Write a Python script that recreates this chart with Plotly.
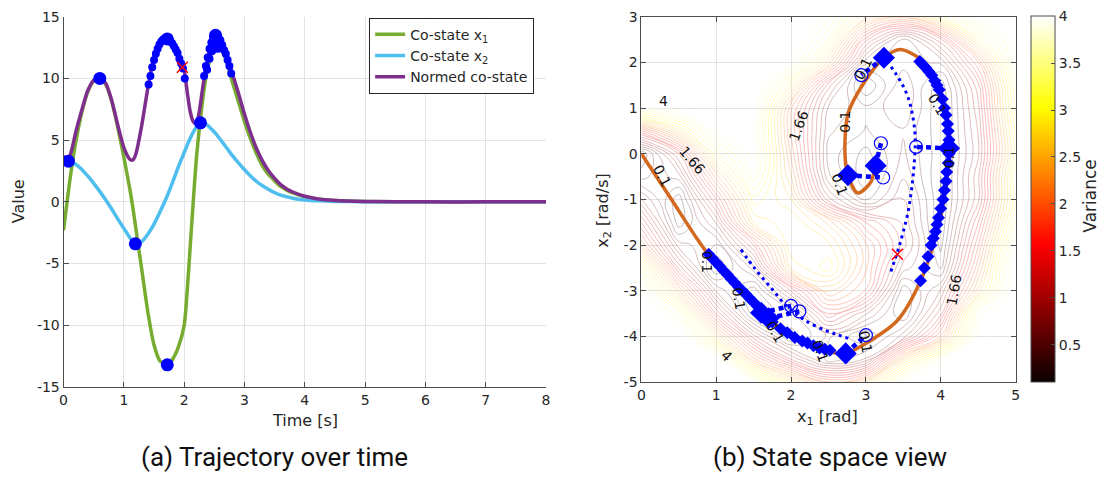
import plotly.graph_objects as go

# ---------------- (a) co-state trajectories over time ----------------
t = [0, 0.05, 0.1, 0.15, 0.2, 0.3, 0.4, 0.5, 0.6, 0.7, 0.8, 0.9, 1.0, 1.1, 1.15, 1.2,
     1.3, 1.4, 1.5, 1.6, 1.72, 1.8, 1.9, 2.0, 2.05, 2.1, 2.15, 2.2, 2.25, 2.3, 2.35,
     2.4, 2.45, 2.52, 2.6, 2.7, 2.8, 2.9, 3.0, 3.1, 3.2, 3.3, 3.4, 3.5, 3.6, 3.7, 3.8,
     4.0, 4.2, 4.5, 5.0, 5.5, 6.0, 7.0, 8.0]
costate_x1 = [-2.3, -0.3, 1.6, 3.3, 4.8, 7.2, 8.9, 9.8, 10.0, 9.5, 8.1, 6.0, 3.6, 1.0, -0.5, -2.2,
              -5.6, -9.0, -11.6, -12.9, -13.2, -12.8, -11.8, -10.0, -7.2, -3.6, 0.0, 3.4, 5.9, 8.0, 9.8,
              11.0, 12.0, 12.6, 12.5, 11.4, 9.7, 8.1, 6.5, 5.1, 3.9, 2.9, 2.2, 1.7, 1.25, 0.95, 0.72,
              0.42, 0.24, 0.11, 0.03, 0.01, 0, 0, 0]
costate_x2 = [3.3, 3.32, 3.3, 3.2, 3.05, 2.65, 2.1, 1.5, 0.85, 0.15, -0.6, -1.4, -2.15, -2.9, -3.2, -3.4,
              -3.2, -2.6, -1.8, -0.8, 0.5, 1.5, 2.8, 4.0, 4.6, 5.15, 5.65, 6.05, 6.35, 6.4, 6.3,
              6.15, 5.9, 5.55, 5.05, 4.4, 3.75, 3.15, 2.6, 2.1, 1.65, 1.3, 1.0, 0.75, 0.55, 0.42, 0.3,
              0.16, 0.09, 0.04, 0.01, 0, 0, 0, 0]
normed = [3.75, 3.3, 3.65, 4.5, 5.6, 7.4, 9.0, 9.85, 10.05, 9.6, 8.2, 6.2, 4.4, 3.45, 3.4, 3.9,
          6.3, 9.3, 11.7, 12.9, 13.25, 12.9, 12.1, 10.7, 8.9, 7.3, 6.5, 6.3, 7.3, 9.0, 10.6,
          11.9, 12.9, 13.5, 13.1, 11.9, 10.4, 8.8, 7.1, 5.6, 4.3, 3.3, 2.5, 1.9, 1.4, 1.05, 0.8,
          0.46, 0.26, 0.12, 0.04, 0.01, 0, 0, 0]

# highlighted samples on the normed co-state near both peaks
peak1_t = [1.41, 1.44, 1.47, 1.50, 1.53, 1.56, 1.59, 1.62, 1.65, 1.68, 1.71, 1.74, 1.77, 1.80,
           1.83, 1.86, 1.89, 1.92, 1.95, 1.98, 2.01]
peak1_v = [9.5, 10.2, 10.9, 11.5, 12.0, 12.4, 12.75, 13.0, 13.15, 13.22, 13.25, 13.2, 13.05, 12.85,
           12.6, 12.35, 12.05, 11.6, 11.2, 10.8, 10.0]
peak2_t = [2.33, 2.36, 2.39, 2.42, 2.45, 2.48, 2.51, 2.54, 2.57, 2.60, 2.63, 2.66, 2.69, 2.72,
           2.75, 2.78, 2.38, 2.42, 2.46, 2.50]
peak2_v = [10.2, 11.0, 11.7, 12.4, 12.9, 13.3, 13.5, 13.45, 13.3, 13.1, 12.7, 12.3, 12.0, 11.5,
           11.0, 10.4, 10.7, 11.6, 12.2, 12.5]
# extrema markers
ext_t = [0.08, 0.6, 1.19, 1.72, 1.72, 2.27, 2.52, 2.55]
ext_v = [3.3, 10.0, -3.4, -13.2, 13.2, 6.4, 13.5, 12.6]
cross_t = [1.97]
cross_v = [10.9]

# ---------------- (b) state space ----------------
grid_x1 = [0, 0.5, 1.0, 1.5, 2.0, 2.5, 3.0, 3.5, 4.0, 4.5, 5.0]
grid_x2 = [-5.0, -4.5, -4.0, -3.5, -3.0, -2.5, -2.0, -1.5, -1.0, -0.5, 0.0,
           0.5, 1.0, 1.5, 2.0, 2.5, 3.0]
variance = [
    [4.3, 4.3, 4.3, 3.8, 2.8, 2.0, 2.4, 3.9, 4.3, 4.3, 4.3],
    [4.3, 4.3, 4.0, 2.2, 1.2, 0.45, 0.75, 2.5, 3.7, 4.3, 4.3],
    [4.3, 4.1, 2.6, 1.1, 0.2, 0.6, 0.25, 0.8, 2.0, 3.9, 4.3],
    [4.2, 3.4, 1.5, 0.15, 0.35, 1.5, 0.9, 0.25, 1.3, 3.6, 4.3],
    [3.9, 2.3, 0.7, 0.15, 1.2, 2.3, 1.8, 0.3, 0.9, 2.5, 4.1],
    [3.3, 1.3, 0.1, 0.8, 2.6, 3.0, 2.0, 0.8, 0.4, 2.1, 4.0],
    [2.1, 0.65, 0.4, 1.5, 2.9, 2.8, 2.0, 1.1, 0.2, 1.8, 3.8],
    [1.5, 0.15, 0.9, 2.6, 2.9, 2.4, 1.5, 1.0, 0.1, 1.5, 3.4],
    [0.9, 0.15, 1.5, 3.0, 2.6, 1.1, 0.35, 0.9, 0.1, 1.15, 3.2],
    [0.35, 0.65, 2.2, 3.5, 2.3, 0.6, 0.15, 0.7, 0.1, 1.15, 3.2],
    [0.1, 1.2, 3.0, 3.8, 2.1, 0.5, 0.2, 0.6, 0.15, 1.0, 3.0],
    [1.6, 2.7, 3.75, 3.8, 1.95, 0.6, 0.4, 0.55, 0.15, 1.05, 3.1],
    [3.9, 3.95, 3.95, 3.95, 2.0, 0.7, 0.45, 0.7, 0.1, 1.15, 3.3],
    [4.2, 4.2, 4.1, 4.1, 2.8, 1.1, 0.1, 0.7, 0.15, 1.3, 3.4],
    [4.3, 4.3, 4.3, 4.3, 3.8, 2.4, 0.6, 0.5, 0.6, 1.8, 3.8],
    [4.3, 4.3, 4.3, 4.3, 4.05, 3.2, 1.4, 0.45, 1.3, 2.9, 3.9],
    [4.3, 4.3, 4.3, 4.3, 4.1, 3.6, 2.6, 2.2, 3.0, 3.8, 4.3],
]

traj_x1 = [0, 0.37, 0.74, 0.88, 1.3, 1.7, 2.1, 2.43, 2.73, 2.98, 3.42, 3.73, 3.99, 4.11,
           4.06, 3.91, 3.73, 3.46, 3.24, 2.98, 2.76, 2.72, 2.76, 2.89, 3.07, 3.13]
traj_x2 = [0, -0.92, -1.85, -2.17, -2.95, -3.62, -4.07, -4.3, -4.37, -4.17, -3.65, -2.78, -1.46, 0.02,
           0.94, 1.72, 2.07, 2.28, 2.1, 1.57, 0.87, 0.02, -0.47, -0.86, -0.61, -0.1]

# sampled states along the swing (small diamonds)
samp_x1 = [0.9, 0.95, 1.0, 1.05, 1.1, 1.15, 1.2, 1.25, 1.3, 1.35, 1.4, 1.45, 1.5, 1.55, 1.6, 1.65,
           1.7, 1.75, 1.86, 1.95, 2.05, 2.15, 2.22, 2.3, 2.38, 2.45, 2.52,
           3.73, 3.78, 3.83, 3.87, 3.9, 3.93, 3.95, 3.97, 4.0, 4.03, 4.05, 4.07, 4.08, 4.1,
           4.11, 4.11, 4.1, 4.09, 4.07, 4.05, 4.02, 3.98, 3.95, 3.92, 3.88, 3.84, 3.8, 3.76, 3.72]
samp_x2 = [-2.2, -2.29, -2.38, -2.47, -2.56, -2.65, -2.74, -2.83, -2.92, -3.0, -3.08, -3.17, -3.25,
           -3.34, -3.43, -3.5, -3.6, -3.68, -3.83, -3.92, -4.02, -4.1, -4.14, -4.2, -4.25, -4.28, -4.3,
           -2.78, -2.5, -2.25, -2.0, -1.85, -1.7, -1.55, -1.4, -1.2, -1.0, -0.8, -0.6, -0.4, -0.2,
           0.0, 0.3, 0.5, 0.65, 0.85, 1.0, 1.2, 1.4, 1.5, 1.6, 1.72, 1.8, 1.88, 1.95, 2.02]
# decision states (large diamonds) and their predicted successors (open circles)
dec_x1 = [1.6, 1.7, 2.73, 4.11, 2.76, 3.13, 3.24]
dec_x2 = [-3.48, -3.6, -4.37, 0.12, -0.47, -0.26, 2.1]
pred_x1 = [2.0, 2.11, 3.0, 3.67, 3.23, 3.2, 2.94]
pred_x2 = [-3.33, -3.45, -3.97, 0.15, -0.52, 0.23, 1.72]

# predicted rollouts (dotted)
rollA_x1 = [1.33, 1.52, 1.74, 1.92, 2.05, 2.19, 2.45, 2.62, 2.78]
rollA_x2 = [-2.1, -2.52, -2.95, -3.3, -3.48, -3.65, -3.86, -3.96, -4.05]
rollB_x1 = [3.28, 3.4, 3.51, 3.58, 3.62, 3.65, 3.66, 3.65, 3.63, 3.6, 3.56, 3.5, 3.44, 3.38, 3.33]
rollB_x2 = [2.03, 1.75, 1.44, 1.15, 0.87, 0.55, 0.23, -0.1, -0.5, -0.9, -1.3, -1.7, -2.05, -2.35, -2.59]
goal_x1 = [3.42]
goal_x2 = [-2.2]

# contour labels: (text, x1, x2, angle)
clabels = [("4", 0.3, 1.15, 0), ("1.66", 0.68, -0.13, 50), ("0.1", 0.27, -0.47, 62),
           ("1.66", 2.1, 0.61, -70), ("0.1", 2.96, 1.86, -65), ("0.1", 2.72, 0.7, -90),
           ("0.1", 3.95, 1.08, 60), ("0.1", 4.11, -0.08, -90), ("0.1", 2.65, -0.66, 70),
           ("0.1", 0.88, -2.37, 90), ("0.1", 1.3, -3.16, 80), ("0.1", 1.79, -3.9, 60),
           ("0.1", 2.39, -4.32, 70), ("0.1", 3.0, -4.11, 80), ("4", 1.14, -4.43, 45),
           ("1.66", 4.18, -2.99, -80)]

# tick positions and their printed labels (plain hyphen minus)
t_ticks = [0, 1, 2, 3, 4, 5, 6, 7, 8]
v_ticks = [-15, -10, -5, 0, 5, 10, 15]
x1_ticks = [0, 1, 2, 3, 4, 5]
x2_ticks = [-5, -4, -3, -2, -1, 0, 1, 2, 3]
cb_ticks = [0.5, 1, 1.5, 2, 2.5, 3, 3.5, 4]


def labels(vals):
    return [("%g" % v).replace("\u2212", "-") for v in vals]


# ---------------- styling ----------------
TICK_FONT = dict(family="DejaVu Sans", size=14, color="#262626")
AX_COL = "#4d4d4d"
GRID_COL = "#e3e3e3"
BLUE = "#0000ff"
HOT = [[0.0, "#0a0000"], [0.375, "#ff0000"], [0.75, "#ffff00"], [1.0, "#ffffff"]]

fig = go.Figure()

# left panel
fig.add_trace(go.Scatter(x=t, y=costate_x1, mode="lines", name="Co-state x<sub>1</sub>",
                         line=dict(color="#77ac30", width=3.5, shape="spline", smoothing=0.6),
                         xaxis="x", yaxis="y"))
fig.add_trace(go.Scatter(x=t, y=costate_x2, mode="lines", name="Co-state x<sub>2</sub>",
                         line=dict(color="#4dbeee", width=3.5, shape="spline", smoothing=0.6),
                         xaxis="x", yaxis="y"))
fig.add_trace(go.Scatter(x=t, y=normed, mode="lines", name="Normed co-state",
                         line=dict(color="#7e2f8e", width=3.5, shape="spline", smoothing=0.6),
                         xaxis="x", yaxis="y"))
fig.add_trace(go.Scatter(x=peak1_t + peak2_t, y=peak1_v + peak2_v, mode="markers",
                         marker=dict(color=BLUE, size=8), showlegend=False, xaxis="x", yaxis="y"))
fig.add_trace(go.Scatter(x=ext_t, y=ext_v, mode="markers",
                         marker=dict(color=BLUE, size=13), showlegend=False, xaxis="x", yaxis="y"))
fig.add_trace(go.Scatter(x=cross_t, y=cross_v, mode="markers",
                         marker=dict(symbol="x-thin", size=11, line=dict(width=1.5, color="#ff0000")),
                         showlegend=False, xaxis="x", yaxis="y"))

# right panel
fig.add_trace(go.Contour(x=grid_x1, y=grid_x2, z=variance, xaxis="x2", yaxis="y2",
                         contours=dict(start=0.1, end=4.001, size=0.156, coloring="lines"),
                         line=dict(width=0.8, smoothing=1.3), colorscale=HOT, zmin=0.1, zmax=4,
                         opacity=0.33, showscale=False, showlegend=False, hoverinfo="skip"))
fig.add_trace(go.Scatter(x=traj_x1, y=traj_x2, mode="lines",
                         line=dict(color="#d2691e", width=3.5, shape="spline", smoothing=0.8),
                         showlegend=False, xaxis="x2", yaxis="y2"))
for rx, ry in ((rollA_x1, rollA_x2), (rollB_x1, rollB_x2)):
    fig.add_trace(go.Scatter(x=rx, y=ry, mode="lines",
                             line=dict(color=BLUE, width=3, dash="3px,4px", shape="spline"),
                             showlegend=False, xaxis="x2", yaxis="y2"))
conn_x, conn_y = [], []
for i in range(len(dec_x1)):
    conn_x += [dec_x1[i], pred_x1[i], None]
    conn_y += [dec_x2[i], pred_x2[i], None]
fig.add_trace(go.Scatter(x=conn_x, y=conn_y, mode="lines",
                         line=dict(color=BLUE, width=4.5, dash="5px,4px"),
                         showlegend=False, xaxis="x2", yaxis="y2"))
fig.add_trace(go.Scatter(x=samp_x1, y=samp_x2, mode="markers",
                         marker=dict(symbol="diamond", color=BLUE, size=10),
                         showlegend=False, xaxis="x2", yaxis="y2"))
fig.add_trace(go.Scatter(x=dec_x1, y=dec_x2, mode="markers",
                         marker=dict(symbol="diamond", color=BLUE, size=17),
                         showlegend=False, xaxis="x2", yaxis="y2"))
fig.add_trace(go.Scatter(x=pred_x1, y=pred_x2, mode="markers",
                         marker=dict(symbol="circle-open", color=BLUE, size=13, line=dict(width=1.2)),
                         showlegend=False, xaxis="x2", yaxis="y2"))
fig.add_trace(go.Scatter(x=goal_x1, y=goal_x2, mode="markers",
                         marker=dict(symbol="x-thin", size=11, line=dict(width=1.5, color="#ff0000")),
                         showlegend=False, xaxis="x2", yaxis="y2"))
# colour scale for the variance
fig.add_trace(go.Scatter(x=[-10], y=[-10], mode="markers", xaxis="x2", yaxis="y2",
                         showlegend=False, hoverinfo="skip",
                         marker=dict(color=[0.1], colorscale=HOT, cmin=0.1, cmax=4, size=1,
                                     showscale=True,
                                     colorbar=dict(x=1034 / 1105, xanchor="left", thickness=24,
                                                   y=97 / 484, yanchor="bottom", len=378 / 484,
                                                   lenmode="fraction", outlinecolor=AX_COL,
                                                   outlinewidth=1, ticks="inside", ticklen=4,
                                                   tickcolor=AX_COL, tickvals=cb_ticks,
                                                   ticktext=labels(cb_ticks),
                                                   tickfont=TICK_FONT, xpad=0, ypad=0))))

axis_common = dict(showgrid=True, gridcolor=GRID_COL, gridwidth=1, zeroline=False,
                   showline=True, linecolor=AX_COL, linewidth=1, ticks="inside", ticklen=5,
                   tickcolor=AX_COL, tickfont=TICK_FONT)

annotations = [
    dict(text="Time [s]", x=303 / 1105, y=(484 - 427) / 484),
    dict(text="Value", x=14 / 1105, y=(484 - 200) / 484, textangle=-90),
    dict(text="x<sub>1</sub> [rad]", x=830 / 1105, y=(484 - 423) / 484),
    dict(text="x<sub>2</sub> [rad/s]", x=603 / 1105, y=(484 - 210) / 484, textangle=-90),
]
for a in annotations:
    a.update(xref="paper", yref="paper", showarrow=False, xanchor="center", yanchor="middle",
             font=dict(family="DejaVu Sans", size=16, color="#262626"))
annotations.append(dict(text="Variance", x=1093 / 1105, y=(484 - 195) / 484, textangle=-90,
                        xref="paper", yref="paper", showarrow=False, xanchor="center",
                        yanchor="middle", font=dict(family="DejaVu Sans", size=17, color="#262626")))
annotations += [
    dict(text="(a) Trajectory over time", x=272 / 1105, y=(484 - 464) / 484),
    dict(text="(b) State space view", x=832 / 1105, y=(484 - 464) / 484),
]
for a in annotations[-2:]:
    a.update(xref="paper", yref="paper", showarrow=False, xanchor="center", yanchor="middle",
             font=dict(family="Roboto", size=26, color="#111111"))
for txt, lx, ly, ang in clabels:
    annotations.append(dict(text=txt, x=lx, y=ly, xref="x2", yref="y2", showarrow=False,
                            textangle=ang, font=dict(family="DejaVu Sans", size=14, color="#111111")))

fig.update_layout(
    width=1105, height=484, margin=dict(l=0, r=0, t=0, b=0),
    paper_bgcolor="white", plot_bgcolor="white",
    xaxis=dict(domain=[60 / 1105, 546 / 1105], range=[0, 8], tickvals=t_ticks,
               ticktext=labels(t_ticks), anchor="y", mirror=False, **axis_common),
    yaxis=dict(domain=[92 / 484, 475 / 484], range=[-15, 15], tickvals=v_ticks,
               ticktext=labels(v_ticks), anchor="x", mirror=False, **axis_common),
    xaxis2=dict(domain=[642 / 1105, 1019 / 1105], range=[0, 5], tickvals=x1_ticks,
                ticktext=labels(x1_ticks), anchor="y2", mirror="allticks", **axis_common),
    yaxis2=dict(domain=[97 / 484, 475 / 484], range=[-5, 3], tickvals=x2_ticks,
                ticktext=labels(x2_ticks), anchor="x2", mirror="allticks", **axis_common),
    legend=dict(x=534 / 1105, xanchor="right", y=(484 - 10) / 484, yanchor="top",
                bgcolor="white", bordercolor="#262626", borderwidth=1,
                font=dict(family="DejaVu Sans", size=14, color="#262626"),
                tracegroupgap=0),
    annotations=annotations,
    showlegend=True,
)

fig.write_html("out.html")
